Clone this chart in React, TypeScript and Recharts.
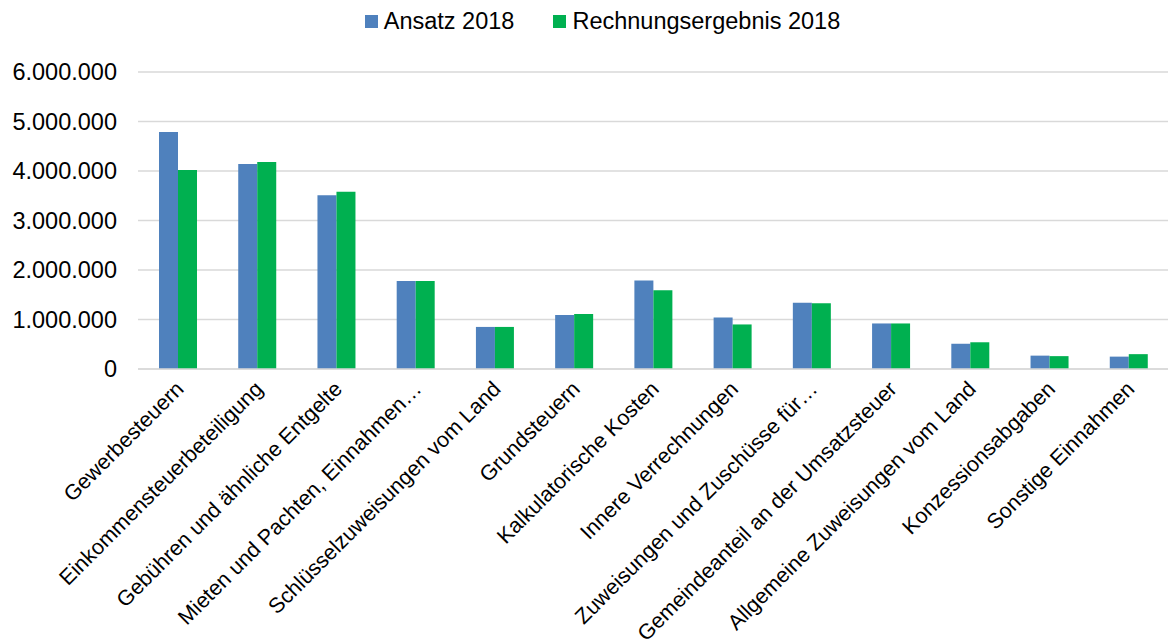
import { Bar, BarChart, CartesianGrid, Legend, XAxis, YAxis } from "recharts";

const categories = [
  "Gewerbesteuern",
  "Einkommensteuerbeteiligung",
  "Gebühren und ähnliche Entgelte",
  "Mieten und Pachten, Einnahmen…",
  "Schlüsselzuweisungen vom Land",
  "Grundsteuern",
  "Kalkulatorische Kosten",
  "Innere Verrechnungen",
  "Zuweisungen und Zuschüsse für…",
  "Gemeindeanteil an der Umsatzsteuer",
  "Allgemeine Zuweisungen vom Land",
  "Konzessionsabgaben",
  "Sonstige Einnahmen",
];

const ansatz2018 = [4790000, 4140000, 3510000, 1780000, 850000, 1090000, 1790000, 1040000, 1340000, 920000, 510000, 270000, 250000];
const rechnung2018 = [4020000, 4180000, 3580000, 1780000, 850000, 1110000, 1590000, 900000, 1330000, 920000, 540000, 260000, 300000];

const yTicks = [0, 1000000, 2000000, 3000000, 4000000, 5000000, 6000000];

const data = categories.map((name, i) => ({ name, ansatz: ansatz2018[i], rechnung: rechnung2018[i] }));

const BLUE = "#4F81BD";
const GREEN = "#00B050";
const FONT = "'Liberation Sans', Arial, sans-serif";

const fmt = (v: number) => String(v).replace(/\B(?=(\d{3})+(?!\d))/g, ".");

function CategoryTick({ x, y, payload }: any) {
  return (
    <g transform={`translate(${x + 2},${y + 8}) rotate(-45)`}>
      <text textAnchor="end" dy="0.35em" fontSize={21.5} fontFamily={FONT} fill="#000">
        {payload.value}
      </text>
    </g>
  );
}

function LegendContent() {
  const items = [
    { label: "Ansatz 2018", color: BLUE },
    { label: "Rechnungsergebnis 2018", color: GREEN },
  ];
  return (
    <div style={{ display: "flex", justifyContent: "center", paddingLeft: 37, height: 72, paddingTop: 8, boxSizing: "border-box", alignItems: "flex-start", fontFamily: FONT, fontSize: 23.5, lineHeight: "27px", color: "#000" }}>
      {items.map((it, i) => (
        <div key={it.label} style={{ display: "flex", alignItems: "center", marginLeft: i ? 39 : 0 }}>
          <span style={{ display: "inline-block", width: 13, height: 13, background: it.color, marginRight: 6 }} />
          <span>{it.label}</span>
        </div>
      ))}
    </div>
  );
}

export default function App() {
  return (
    <div style={{ position: "absolute", left: 0, top: 0, background: "#fff" }}>
      <BarChart
        width={1168}
        height={641}
        data={data}
        margin={{ top: 0, right: 0, left: 0, bottom: 0 }}
        barGap={0}
        barSize={19}
      >
        <CartesianGrid stroke="#d9d9d9" strokeWidth={1.5} vertical={false} />
        <Legend verticalAlign="top" content={<LegendContent />} />
        <XAxis
          dataKey="name"
          interval={0}
          height={272}
          tick={<CategoryTick />}
          tickLine={false}
          axisLine={{ stroke: "#d9d9d9", strokeWidth: 1.5 }}
        />
        <YAxis
          width={138}
          domain={[0, 6000000]}
          ticks={yTicks}
          tickFormatter={fmt}
          axisLine={false}
          tickLine={false}
          tickSize={6}
          tickMargin={15}
          tick={{ fontSize: 23.5, fontFamily: FONT, fill: "#000" }}
        />
        <Bar dataKey="ansatz" name="Ansatz 2018" fill={BLUE} isAnimationActive={false} />
        <Bar dataKey="rechnung" name="Rechnungsergebnis 2018" fill={GREEN} isAnimationActive={false} />
      </BarChart>
    </div>
  );
}
